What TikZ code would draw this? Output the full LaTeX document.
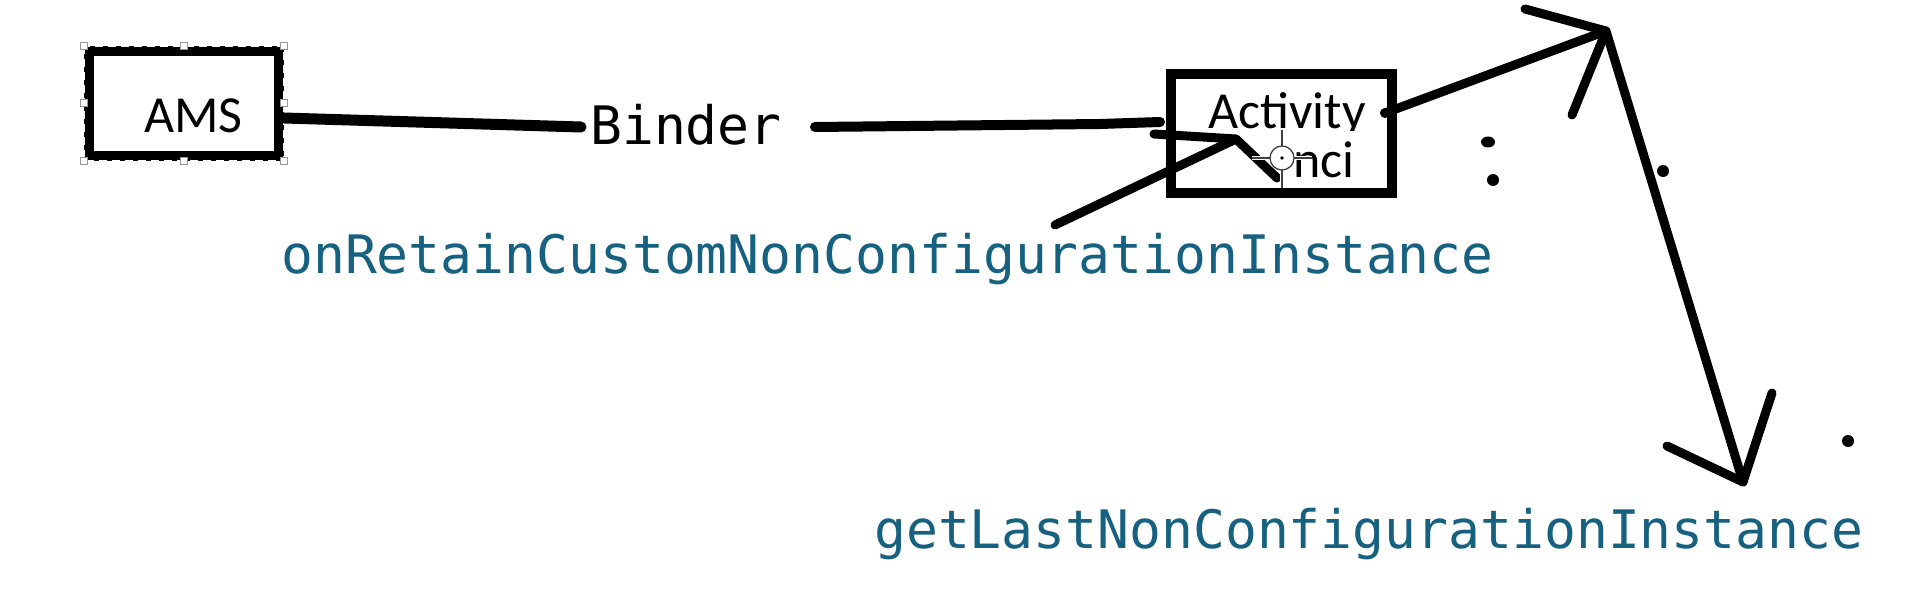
\documentclass[tikz,border=0pt]{standalone}
\usepackage{fontspec}
\newfontfamily\monof{DejaVu Sans Mono}
\newfontfamily\calib{Carlito}
\definecolor{codeblue}{RGB}{22,96,128}
\definecolor{handlegray}{RGB}{150,150,150}
\begin{document}
\begin{tikzpicture}[x=1pt,y=-1pt,
  ink/.style={line width=9pt,line cap=round,line join=round},
  boxthick/.style={draw=black,line width=10pt,rectangle,inner sep=0pt},
  boxlabel/.style={font=\calib\fontsize{52}{60}\selectfont,inner sep=0pt},
  codelabel/.style={font=\monof\fontsize{53}{60}\selectfont,inner sep=0pt,text=codeblue,anchor=base west},
  handle/.style={draw=handlegray,fill=white,line width=1pt,minimum size=7pt,inner sep=0pt,rectangle},
  inkdot/.style={fill=black,circle,inner sep=0pt,minimum size=12pt}]
\useasboundingbox (0,0) rectangle (1922,599);
\fill[white] (0,0) rectangle (1922,599);

% AMS box (selected)
\node[boxthick,minimum width=190pt,minimum height=105pt] (ams) at (184,103.5) {};
\draw[white,line width=2pt,dash pattern=on 8pt off 5pt] (ams.north west) rectangle (ams.south east);
\node[boxlabel,anchor=base] (amst) at (193.5,132) {AMS};
\foreach \a in {north west,north,north east,west,east,south west,south,south east}{
  \node[handle] at (ams.\a) {};
}

% Activity box
\node[boxthick,minimum width=221pt,minimum height=119pt] (act) at (1281.5,133.5) {};
\begin{scope}
  \clip (1176,79) rectangle (1387,131);
  \node[boxlabel,anchor=base west] (actt) at (1208,129) {Activity};
\end{scope}
\node[boxlabel,anchor=base west] (nci) at (1293,178) {nci};

% Binder label
\node[font=\monof\fontsize{53}{60}\selectfont,inner sep=0pt,anchor=base west] (binder) at (590,145) {Binder};

% code labels
\node[codelabel] (retain) at (281,273) {onRetainCustomNonConfigurationInstance};
\node[codelabel] (getlast) at (874,548) {getLastNonConfigurationInstance};

% coordinates of hand-drawn strokes
\coordinate (l1s) at (284,118);
\coordinate (l1e) at (581,127);
\coordinate (l2s) at (815,127);
\coordinate (l2m) at (1100,124);
\coordinate (l2e) at (1160,122);
\coordinate (r0) at (1055,225);
\coordinate (rt) at (1236,139);
\coordinate (rb1) at (1154,134);
\coordinate (rb2) at (1277,178);
\coordinate (a0) at (1385,113);
\coordinate (at) at (1606,31);
\coordinate (ab1) at (1525,9);
\coordinate (ab2) at (1572,115);
\coordinate (dt) at (1743,482);
\coordinate (db1) at (1667,446);
\coordinate (db2) at (1772,393);

% strokes
\draw[line width=11pt,line cap=round] (l1s) -- (l1e);
\draw[line width=10pt,line cap=round,line join=round] (l2s) -- (l2m) -- (l2e);
\draw[ink] (r0) -- (rt);
\draw[ink] (rb1) -- (rt) -- (rb2);
\draw[ink] (a0) -- (at) -- (dt);
\draw[ink] (ab1) -- (at) -- (ab2);
\draw[ink] (db1) -- (dt) -- (db2);

% dots
\node[inkdot,minimum size=10pt] (dotA) at (a0) {};
\fill (1488,142) ellipse (7pt and 5.5pt);
\node[inkdot] (dot2) at (1493,180) {};
\node[inkdot] (dot3) at (1663,171) {};
\node[inkdot] (dot4) at (1848,441) {};

% crosshair cursor
\coordinate (cur) at (1282,158);
\draw[white,line width=4pt] (1282,130) -- (1282,188) (1252,158) -- (1312,158);
\draw[black!75,line width=1.3pt] (1282,130) -- (1282,188) (1252,158) -- (1312,158);
\draw[black!75,fill=white,line width=1.3pt] (cur) circle (12pt);
\fill[black] (cur) circle (1.8pt);
\end{tikzpicture}
\end{document}
